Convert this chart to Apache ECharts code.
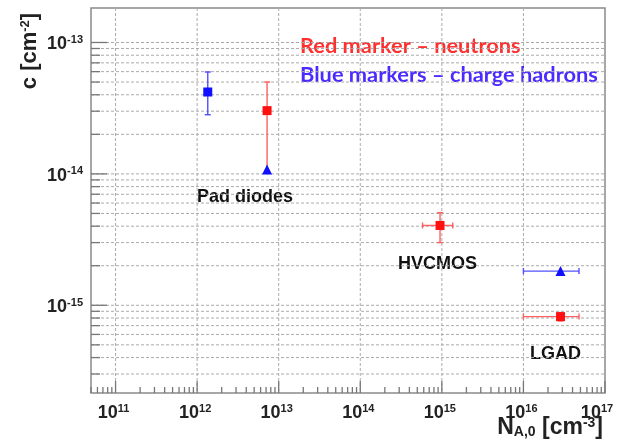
<!DOCTYPE html>
<html><head><meta charset="utf-8">
<script src="https://cdn.jsdelivr.net/npm/echarts@6/dist/echarts.min.js"></script>
<style>html,body{margin:0;padding:0;background:#fff}#c{width:621px;height:447px}</style>
</head><body><div id="c"></div>
<script>
// ---- axis / tick data ----
const xMajorTicks = [1e11, 1e12, 1e13, 1e14, 1e15, 1e16, 1e17];
const xTickExponents = ['11', '12', '13', '14', '15', '16', '17'];
const yMajorTicks = [1e-16, 1e-15, 1e-14, 1e-13];
const yTickExponents = ['-16', '-15', '-14', '-13'];
const minorMultipliers = [2, 3, 4, 5, 6, 7, 8, 9];
const xRange = [5e10, 1e17];
const yRange = [2.15e-16, 1.83e-13];

// ---- red: neutrons ----
const neutronX     = [7.2e12, 9.5e14, 2.85e16];
const neutronY     = [3.03e-14, 4.05e-15, 8.2e-16];
const neutronXLow  = [7.2e12, 5.8e14, 1.0e16];
const neutronXHigh = [7.2e12, 1.36e15, 4.8e16];
const neutronYLow  = [1.05e-14, 3.0e-15, 7.6e-16];
const neutronYHigh = [5.0e-14, 5.07e-15, 8.8e-16];

// ---- blue: charged hadrons ----
const hadronX      = [1.35e12, 7.2e12, 2.85e16];
const hadronY      = [4.2e-14, 1.08e-14, 1.82e-15];
const hadronXLow   = [1.35e12, 7.2e12, 1.0e16];
const hadronXHigh  = [1.35e12, 7.2e12, 4.8e16];
const hadronYLow   = [2.82e-14, 1.08e-14, 1.82e-15];
const hadronYHigh  = [5.96e-14, 1.08e-14, 1.82e-15];
const hadronSymbols = ['rect', 'triangle', 'triangle'];

// ---- derived tick lists ----
function allTicks(majors, range) {
  const out = [];
  majors.forEach(m => {
    if (m >= range[0] && m <= range[1]) out.push({v: m, major: true});
    minorMultipliers.forEach(k => {
      const v = m * k;
      if (v >= range[0] && v <= range[1]) out.push({v: v, major: false});
    });
  });
  const below = majors[0] / 10;
  minorMultipliers.forEach(k => {
    const v = below * k;
    if (v >= range[0] && v <= range[1]) out.push({v: v, major: false});
  });
  return out;
}
const xTicks = allTicks(xMajorTicks, xRange);
const yTicks = allTicks(yMajorTicks, yRange);

const AX = '#777';
const GRID = '#ababab';
const LABEL_FONT = 'Liberation Sans';

const chart = echarts.init(document.getElementById('c'), null, {renderer: 'canvas'});

function errorRender(color) {
  return function (params, api) {
    const x = api.value(0), y = api.value(1);
    const xl = api.value(2), xh = api.value(3), yl = api.value(4), yh = api.value(5);
    const ch = [];
    const st = {stroke: color, lineWidth: 1.4};
    const cap = 3;
    if (xh > xl) {
      const a = api.coord([xl, y]), b = api.coord([xh, y]);
      ch.push({type: 'line', shape: {x1: a[0], y1: a[1], x2: b[0], y2: b[1]}, style: st});
      ch.push({type: 'line', shape: {x1: a[0], y1: a[1] - cap, x2: a[0], y2: a[1] + cap}, style: st});
      ch.push({type: 'line', shape: {x1: b[0], y1: b[1] - cap, x2: b[0], y2: b[1] + cap}, style: st});
    }
    if (yh > yl) {
      const a = api.coord([x, yl]), b = api.coord([x, yh]);
      ch.push({type: 'line', shape: {x1: a[0], y1: a[1], x2: b[0], y2: b[1]}, style: st});
      ch.push({type: 'line', shape: {x1: a[0] - cap, y1: a[1], x2: a[0] + cap, y2: a[1]}, style: st});
      ch.push({type: 'line', shape: {x1: b[0] - cap, y1: b[1], x2: b[0] + cap, y2: b[1]}, style: st});
    }
    return {type: 'group', children: ch};
  };
}

const option = {
  animation: false,
  backgroundColor: '#fff',
  grid: {left: 91, top: 8, right: 16, bottom: 54, show: true, borderColor: '#8a8a8a', borderWidth: 1.5, backgroundColor: 'transparent', containLabel: false},
  xAxis: {type: 'log', min: xRange[0], max: xRange[1], logBase: 10,
    axisLine: {show: false}, axisTick: {show: false}, axisLabel: {show: false}, splitLine: {show: false}},
  yAxis: {type: 'log', min: yRange[0], max: yRange[1], logBase: 10,
    axisLine: {show: false}, axisTick: {show: false}, axisLabel: {show: false}, splitLine: {show: false}},
  series: [
    {
      type: 'custom', clip: false, silent: true, z: 1,
      data: xTicks.map(t => [t.v, yRange[0], t.major ? 1 : 0]),
      encode: {x: 0, y: 1},
      renderItem: function (params, api) {
        const cs = params.coordSys;
        const v = api.value(0), major = api.value(2) === 1;
        const px = api.coord([v, yRange[0]])[0];
        const ch = [];
        const bottom = cs.y + cs.height;
        if (major && px > cs.x + 2 && px < cs.x + cs.width - 2) {
          ch.push({type: 'line', shape: {x1: px, y1: cs.y, x2: px, y2: bottom}, style: {stroke: GRID, lineWidth: 1, lineDash: [3, 2]}});
        }
        ch.push({type: 'line', shape: {x1: px, y1: bottom, x2: px, y2: bottom - (major ? 12 : 6)}, style: {stroke: AX, lineWidth: 1.3}});
        if (major) {
          const idx = xMajorTicks.indexOf(v);
          const shift = idx === xMajorTicks.length - 1 ? -8 : -2;
          ch.push({type: 'text', x: px + shift, y: bottom + 20, style: {
            text: '{b|10}{s|' + xTickExponents[idx] + '}', align: 'center', verticalAlign: 'middle',
            rich: {b: {fontSize: 18, fontWeight: 'bold', fontFamily: LABEL_FONT, fill: '#222', lineHeight: 20},
                   s: {fontSize: 11, fontWeight: 'bold', fontFamily: LABEL_FONT, fill: '#222', verticalAlign: 'top', lineHeight: 11}}
          }});
        }
        return {type: 'group', children: ch};
      }
    },
    {
      type: 'custom', clip: false, silent: true, z: 1,
      data: yTicks.map(t => [xRange[0], t.v, t.major ? 1 : 0]),
      encode: {x: 0, y: 1},
      renderItem: function (params, api) {
        const cs = params.coordSys;
        const v = api.value(1), major = api.value(2) === 1;
        const py = api.coord([xRange[0], v])[1];
        const ch = [];
        if (py > cs.y + 2 && py < cs.y + cs.height - 2) {
          ch.push({type: 'line', shape: {x1: cs.x, y1: py, x2: cs.x + cs.width, y2: py}, style: {stroke: GRID, lineWidth: 1, lineDash: [3, 2]}});
        }
        ch.push({type: 'line', shape: {x1: cs.x, y1: py, x2: cs.x + (major ? 16 : 9), y2: py}, style: {stroke: AX, lineWidth: 1.3}});
        if (major) {
          const idx = yMajorTicks.indexOf(v);
          ch.push({type: 'text', x: cs.x - 8, y: py + 2, style: {
            text: '{b|10}{s|' + yTickExponents[idx] + '}', align: 'right', verticalAlign: 'middle',
            rich: {b: {fontSize: 18, fontWeight: 'bold', fontFamily: LABEL_FONT, fill: '#222', lineHeight: 20},
                   s: {fontSize: 11, fontWeight: 'bold', fontFamily: LABEL_FONT, fill: '#222', verticalAlign: 'top', lineHeight: 11}}
          }});
        }
        return {type: 'group', children: ch};
      }
    },
    {
      type: 'custom', clip: false, silent: true, z: 3,
      data: neutronX.map((x, i) => [x, neutronY[i], neutronXLow[i], neutronXHigh[i], neutronYLow[i], neutronYHigh[i]]),
      encode: {x: 0, y: 1},
      renderItem: errorRender('#ff6060')
    },
    {
      type: 'custom', clip: false, silent: true, z: 3,
      data: hadronX.map((x, i) => [x, hadronY[i], hadronXLow[i], hadronXHigh[i], hadronYLow[i], hadronYHigh[i]]),
      encode: {x: 0, y: 1},
      renderItem: errorRender('#5050ff')
    },
    {
      type: 'scatter', z: 4, silent: true,
      data: neutronX.map((x, i) => ({value: [x, neutronY[i]]})),
      symbol: 'rect', symbolSize: 9,
      itemStyle: {color: '#ff1010', opacity: 1}
    },
    {
      type: 'scatter', z: 4, silent: true,
      data: hadronX.map((x, i) => ({value: [x, hadronY[i]], symbol: hadronSymbols[i], symbolSize: hadronSymbols[i] === 'rect' ? 9 : 10})),
      itemStyle: {color: '#1010ff', opacity: 1}
    }
  ],
  graphic: [
    {type: 'text', x: 30, y: 51, rotation: Math.PI / 2, style: {
      text: 'c [cm{s|-2}]', align: 'center', verticalAlign: 'middle',
      font: 'bold 22px "Liberation Sans"', fill: '#222',
      rich: {s: {fontSize: 13, fontWeight: 'bold', fontFamily: LABEL_FONT, fill: '#222', verticalAlign: 'top', lineHeight: 13}}
    }},
    {type: 'text', x: 603, y: 428, style: {
      text: 'N{u|A,0} [cm{s|-3}]', align: 'right', verticalAlign: 'middle',
      font: 'bold 23px "Liberation Sans"', fill: '#222',
      rich: {s: {fontSize: 14, fontWeight: 'bold', fontFamily: LABEL_FONT, fill: '#222', verticalAlign: 'top', lineHeight: 13},
             u: {fontSize: 14, fontWeight: 'bold', fontFamily: LABEL_FONT, fill: '#222', verticalAlign: 'bottom', lineHeight: 13}}
    }},
    {type: 'text', x: 300, y: 46, style: {text: 'Red marker – neutrons', align: 'left', verticalAlign: 'middle', font: 'bold 21.8px Lato', fill: '#ff3030'}},
    {type: 'text', x: 300, y: 75, style: {text: 'Blue markers – charge hadrons', align: 'left', verticalAlign: 'middle', font: 'bold 21.8px Lato', fill: '#4a2aff'}},
    {type: 'text', x: 197, y: 197, style: {text: 'Pad diodes', align: 'left', verticalAlign: 'middle', font: 'bold 18px "Liberation Sans"', fill: '#111'}},
    {type: 'text', x: 398, y: 264, style: {text: 'HVCMOS', align: 'left', verticalAlign: 'middle', font: 'bold 18px "Liberation Sans"', fill: '#111'}},
    {type: 'text', x: 530, y: 354, style: {text: 'LGAD', align: 'left', verticalAlign: 'middle', font: 'bold 18px "Liberation Sans"', fill: '#111'}}
  ]
};
chart.setOption(option);
</script>
</body></html>
